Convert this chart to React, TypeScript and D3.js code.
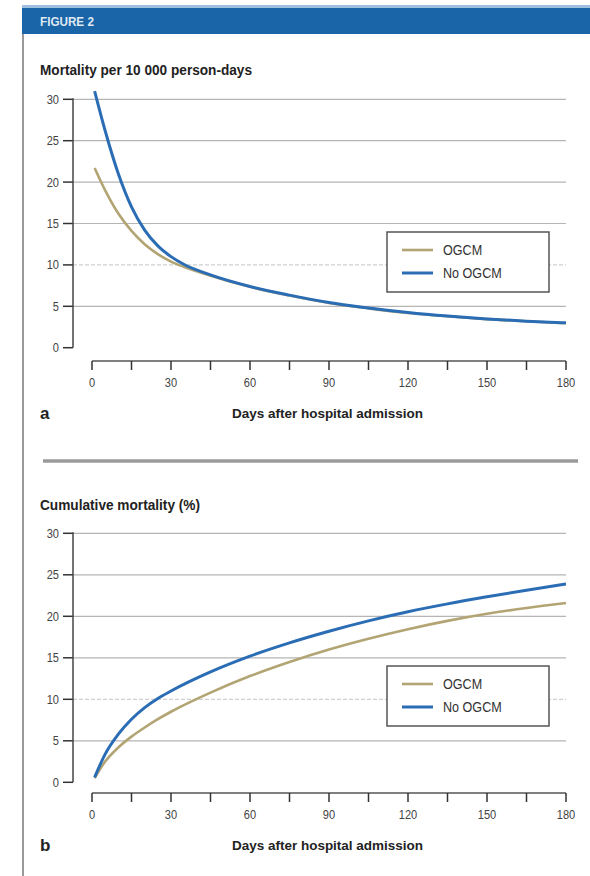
import React from 'react';
import * as d3 from 'd3';

// panel a: mortality per 10 000 person-days
const rateDays = [1, 5, 10, 15, 20, 25, 30, 35, 45, 60, 75, 90, 105, 120, 135, 150, 165, 180];
const rateOgcm = [21.7, 19.0, 16.2, 14.1, 12.5, 11.3, 10.4, 9.75, 8.7, 7.35, 6.3, 5.4, 4.75, 4.2, 3.8, 3.45, 3.2, 2.95];
const rateNoOgcm = [31.0, 26.2, 21.0, 17.0, 14.2, 12.3, 11.0, 10.05, 8.8, 7.4, 6.35, 5.45, 4.8, 4.25, 3.82, 3.48, 3.2, 3.0];

// panel b: cumulative mortality (%)
const cumDays = [1, 5, 10, 15, 20, 25, 30, 45, 60, 75, 90, 105, 120, 135, 150, 165, 180];
const cumOgcm = [0.5, 2.5, 4.2, 5.5, 6.6, 7.6, 8.5, 10.8, 12.8, 14.5, 16.0, 17.3, 18.45, 19.45, 20.3, 21.0, 21.6];
const cumNoOgcm = [0.6, 3.4, 5.8, 7.6, 9.0, 10.1, 11.0, 13.3, 15.2, 16.8, 18.2, 19.45, 20.55, 21.5, 22.35, 23.15, 23.9];

const yTicks = [0, 5, 10, 15, 20, 25, 30];
const xTicks = d3.range(0, 181, 15);
const xLabels = [0, 30, 60, 90, 120, 150, 180];
const seriesNames = ['OGCM', 'No OGCM'];

const BLUE = '#2a6db5';
const TAN = '#b3a474';
const FONT = "'Liberation Sans', Arial, sans-serif";

const x = d3.scaleLinear().domain([0, 180]).range([92, 566]);

// condensed-looking text: squeeze horizontally around the anchor point
function T({ x: tx, y: ty, sx = 0.85, children, ...rest }: any) {
  return (
    <text transform={`translate(${tx},${ty}) scale(${sx},1)`} {...rest}>
      {children}
    </text>
  );
}

type PanelProps = {
  title: string;
  titleWidth: number;
  titleY: number;
  y0: number;
  y30: number;
  axisY: number;
  letter: string;
  days: number[];
  ogcm: number[];
  noOgcm: number[];
  legendY: number;
};

function Panel({ title, titleWidth, titleY, y0, y30, axisY, letter, days, ogcm, noOgcm, legendY }: PanelProps) {
  const y = d3.scaleLinear().domain([0, 30]).range([y0, y30]);
  const line = d3
    .line<number>()
    .x((d, i) => x(days[i]))
    .y((d) => y(d))
    .curve(d3.curveMonotoneX);

  return (
    <g fontFamily={FONT}>
      <text x={40} y={titleY} fontSize={14} fontWeight="bold" fill="#222"
        textLength={titleWidth} lengthAdjust="spacingAndGlyphs">{title}</text>

      {yTicks.map((t) => (
        <g key={t}>
          {t > 0 && (
            <line
              x1={73} x2={566} y1={y(t)} y2={y(t)}
              stroke={t === 10 ? '#cfcfcf' : '#b5b5b5'}
              strokeWidth={1.2}
              strokeDasharray={t === 10 ? '4,2' : undefined}
            />
          )}
          <line x1={63} x2={73} y1={y(t)} y2={y(t)} stroke="#333" strokeWidth={1.5} />
          <T x={59} y={y(t)} dy="0.35em" textAnchor="end" fontSize={13} fill="#444">{t}</T>
        </g>
      ))}
      <line x1={73} x2={73} y1={y(30) - 1} y2={y(0)} stroke="#444" strokeWidth={1.5} />

      <line x1={x(0)} x2={x(180)} y1={axisY} y2={axisY} stroke="#555" strokeWidth={1.5} />
      {xTicks.map((t) => (
        <line key={t} x1={x(t)} x2={x(t)} y1={axisY} y2={axisY + 9} stroke="#333" strokeWidth={1.5} />
      ))}
      {xLabels.map((t) => (
        <T key={t} x={x(t)} y={axisY + 26} textAnchor="middle" fontSize={13} fill="#444">{t}</T>
      ))}

      <path d={line(ogcm) || ''} fill="none" stroke={TAN} strokeWidth={2.6} />
      <path d={line(noOgcm) || ''} fill="none" stroke={BLUE} strokeWidth={3} />

      <text x={40} y={axisY + 58} fontSize={17} fontWeight="bold" fill="#222">{letter}</text>
      <text x={232} y={axisY + 57} fontSize={13} fontWeight="bold" fill="#222"
        textLength={191} lengthAdjust="spacingAndGlyphs">
        Days after hospital admission
      </text>

      <rect x={387} y={legendY} width={162} height={60} fill="#fff" stroke="#555" strokeWidth={1.5} />
      {seriesNames.map((name, i) => (
        <g key={name}>
          <line
            x1={402} x2={433}
            y1={legendY + 18 + i * 23} y2={legendY + 18 + i * 23}
            stroke={i === 0 ? TAN : BLUE}
            strokeWidth={i === 0 ? 2.6 : 3}
          />
          <T x={443} y={legendY + 18 + i * 23} sx={0.9} dy="0.35em" fontSize={14} fill="#333">{name}</T>
        </g>
      ))}
    </g>
  );
}

export default function App() {
  return (
    <svg width={590} height={876} style={{ position: 'absolute', left: 0, top: 0, background: '#fff' }}>
      <rect x={0} y={0} width={590} height={876} fill="#fff" />
      <rect x={22} y={5} width={568} height={4} fill="#9fbfe0" />
      <rect x={22} y={8} width={568} height={26} fill="#1a64a8" />
      <T x={40} y={26} sx={0.9} fontFamily={FONT} fontSize={13} fontWeight="bold" fill="#dfe8f3">FIGURE 2</T>
      <line x1={23} x2={23} y1={34} y2={876} stroke="#9a9a9a" strokeWidth={2} />

      <Panel
        title="Mortality per 10 000 person-days"
        titleWidth={212}
        titleY={75}
        y0={347.7}
        y30={99.3}
        axisY={361}
        letter="a"
        days={rateDays}
        ogcm={rateOgcm}
        noOgcm={rateNoOgcm}
        legendY={232}
      />

      <line x1={43} x2={578} y1={461} y2={461} stroke="#9a9a9a" strokeWidth={3.5} />

      <Panel
        title="Cumulative mortality (%)"
        titleWidth={160}
        titleY={510}
        y0={782.3}
        y30={533.3}
        axisY={793}
        letter="b"
        days={cumDays}
        ogcm={cumOgcm}
        noOgcm={cumNoOgcm}
        legendY={666}
      />
    </svg>
  );
}
